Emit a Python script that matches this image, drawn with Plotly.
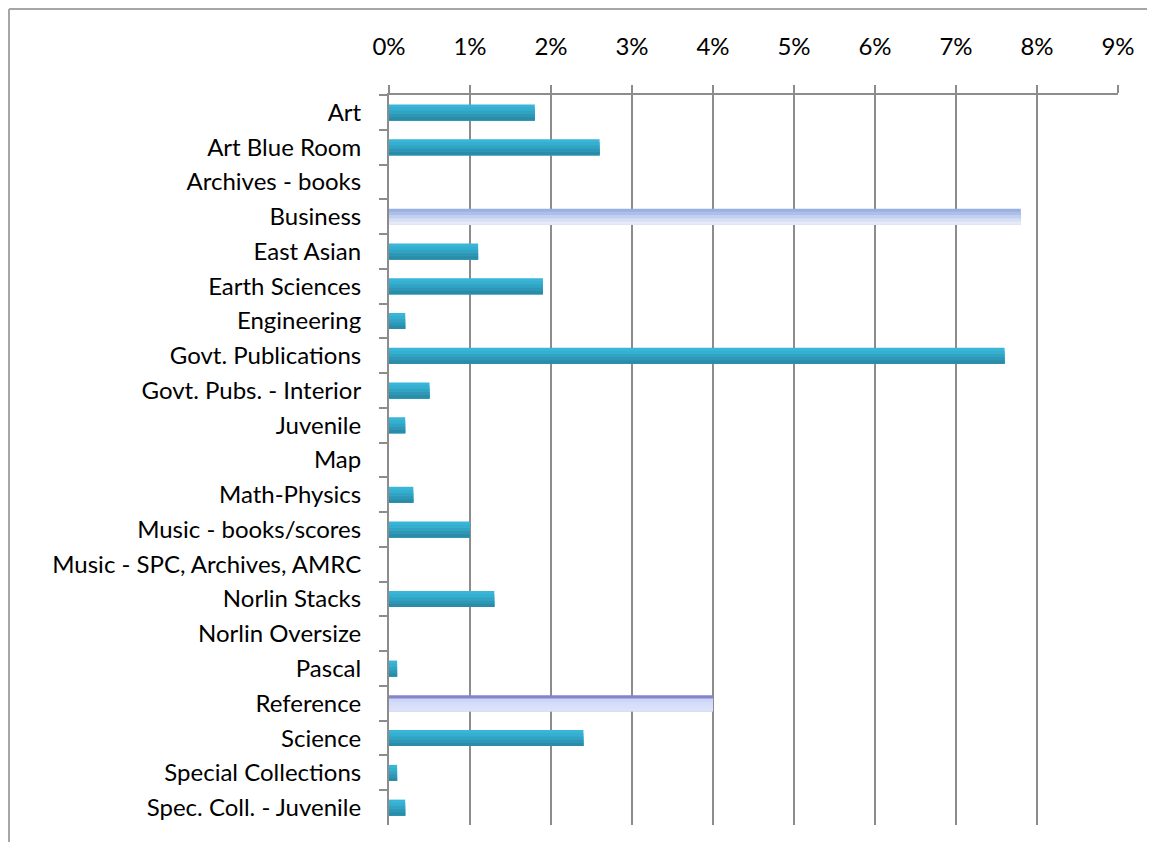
import plotly.graph_objects as go

categories = ["Art", "Art Blue Room", "Archives - books", "Business", "East Asian",
              "Earth Sciences", "Engineering", "Govt. Publications", "Govt. Pubs. - Interior",
              "Juvenile", "Map", "Math-Physics", "Music - books/scores",
              "Music - SPC, Archives, AMRC", "Norlin Stacks", "Norlin Oversize", "Pascal",
              "Reference", "Science", "Special Collections", "Spec. Coll. - Juvenile"]
values = [1.8, 2.6, 0, 7.8, 1.1, 1.9, 0.2, 7.6, 0.5, 0.2, 0, 0.3, 1.0, 0, 1.3, 0, 0.1,
          4.0, 2.4, 0.1, 0.2]
x_ticks = [0, 1, 2, 3, 4, 5, 6, 7, 8, 9]
x_tick_labels = ["0%", "1%", "2%", "3%", "4%", "5%", "6%", "7%", "8%", "9%"]

# colour bands (top -> bottom) per bar style
teal_bands = ["#39B5D7", "#35AED0", "#31A3C3", "#2D97B5", "#2A8CA8"]
business_bands = ["#9AB0E2", "#ADBFE8", "#C2D0EF", "#D5DEF4", "#E4EAF8"]
reference_bands = ["#8585CC", "#CDD6F8", "#D4DCFA", "#D7DFFA", "#DCE2F8"]

def bands_for(c):
    if c == "Business":
        return business_bands
    if c == "Reference":
        return reference_bands
    return teal_bands

fig = go.Figure()
bar_w = 0.46
n_bands = len(teal_bands)
band_w = bar_w / n_bands
for i in range(n_bands):
    fig.add_trace(go.Bar(
        y=categories, x=values, orientation="h",
        width=bar_w - i * band_w, offset=-bar_w / 2 + i * band_w,
        marker=dict(color=[bands_for(c)[i] for c in categories], line=dict(width=0)),
        hoverinfo="skip"))

# page body has 8px margin: keep figure inside the 1155x850 window (8..1147 x 8..842)
OFF = 8
W, H = 1155 - 2 * OFF, 850 - 2 * OFF
ml, mr, mt = 389 - OFF, (W + OFF) - 1118, 95 - OFF
mb = (H + OFF) - 825
pw, ph = W - ml - mr, H - mt - mb

def px(x):
    return (x - OFF - ml) / pw

def py(y):
    return (H - mb - (y - OFF)) / ph

font_family = "Lato, Open Sans, sans-serif"
fig.update_layout(
    width=W, height=H, barmode="overlay", showlegend=False,
    margin=dict(l=ml, r=mr, t=mt, b=mb, pad=0),
    paper_bgcolor="white", plot_bgcolor="white",
    font=dict(family=font_family, size=24, color="black"),
    xaxis=dict(side="top", range=[0, 9], tickvals=x_ticks, ticktext=x_tick_labels,
               showgrid=True, gridcolor="#8C8C8C", gridwidth=2,
               showline=True, linecolor="#8C8C8C", linewidth=2,
               ticks="outside", ticklen=8, tickcolor="#8C8C8C", tickwidth=2,
               ticklabelstandoff=20, zeroline=False, fixedrange=True),
    yaxis=dict(type="category", autorange="reversed", tickson="boundaries",
               showline=True, linecolor="#8C8C8C", linewidth=2,
               ticks="outside", ticklen=8, tickcolor="#8C8C8C", tickwidth=2,
               showgrid=False, ticklabelstandoff=21, fixedrange=True),
    shapes=[
        dict(type="line", xref="paper", yref="paper", x0=px(9), x1=px(9), y0=py(9), y1=py(860),
             line=dict(color="#A6A6A6", width=2)),
        dict(type="line", xref="paper", yref="paper", x0=px(9), x1=px(1147), y0=py(9), y1=py(9),
             line=dict(color="#A6A6A6", width=2)),
    ],
)

fig.write_html("out.html", config={"displayModeBar": False})
